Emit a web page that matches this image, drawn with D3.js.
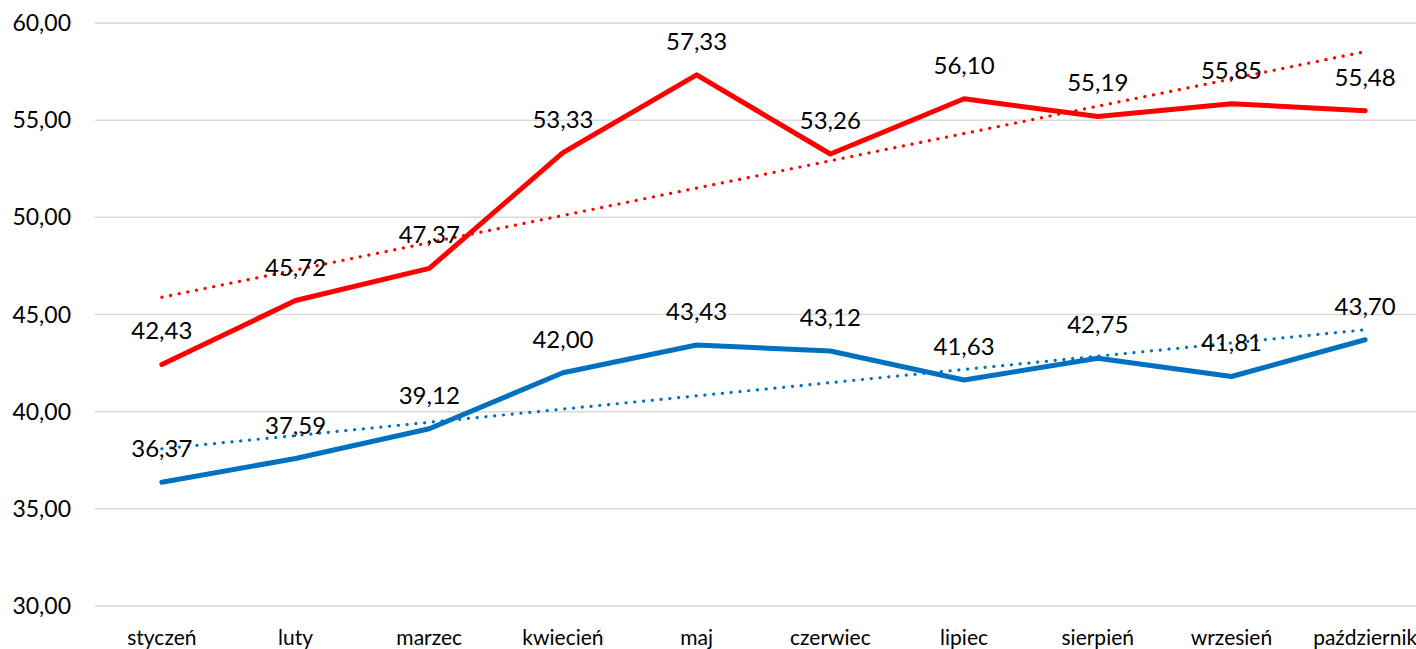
<!DOCTYPE html>
<html>
<head>
<meta charset="utf-8">
<script src="https://cdn.jsdelivr.net/npm/d3@7"></script>
<style>
  html, body { margin: 0; padding: 0; background: #fff; overflow: hidden; }
  svg { display: block; font-family: Lato, "Open Sans", sans-serif; }
  .grid line { stroke: #d9d9d9; stroke-width: 1.5; }
</style>
</head>
<body>
<svg id="chart" width="1416" height="649"></svg>
<script>
  var months = ["styczeń", "luty", "marzec", "kwiecień", "maj", "czerwiec", "lipiec", "sierpień", "wrzesień", "październik"];
  var redValues = [42.43, 45.72, 47.37, 53.33, 57.33, 53.26, 56.10, 55.19, 55.85, 55.48];
  var blueValues = [36.37, 37.59, 39.12, 42.00, 43.43, 43.12, 41.63, 42.75, 41.81, 43.70];
  var yTicks = [30, 35, 40, 45, 50, 55, 60];

  var svg = d3.select("#chart");

  var x = d3.scalePoint()
    .domain(months)
    .range([95, 1432])
    .padding(0.5);

  var y = d3.scaleLinear()
    .domain([30, 60])
    .range([606, 23]);

  var fmt = function (v) { return d3.format(".2f")(v).replace(".", ","); };

  // gridlines
  svg.append("g").attr("class", "grid")
    .selectAll("line").data(yTicks).enter().append("line")
    .attr("x1", 95).attr("x2", 1432)
    .attr("y1", function (d) { return y(d); })
    .attr("y2", function (d) { return y(d); });

  // y axis labels
  svg.append("g").selectAll("text").data(yTicks).enter().append("text")
    .attr("x", 71)
    .attr("y", function (d) { return y(d); })
    .attr("dy", "0.35em")
    .attr("text-anchor", "end")
    .attr("font-size", 23)
    .attr("fill", "#000")
    .text(fmt);

  // x axis labels
  svg.append("g").selectAll("text").data(months).enter().append("text")
    .attr("x", function (d) { return x(d); })
    .attr("y", 645)
    .attr("text-anchor", "middle")
    .attr("font-size", 21)
    .attr("fill", "#000")
    .text(function (d) { return d; });

  // linear trend (least squares), like the spreadsheet trendline
  function trend(values) {
    var n = values.length;
    var mx = (n + 1) / 2, my = d3.mean(values);
    var sxy = 0, sxx = 0;
    values.forEach(function (v, i) {
      sxy += (i + 1 - mx) * (v - my);
      sxx += (i + 1 - mx) * (i + 1 - mx);
    });
    var b = sxy / sxx, a = my - b * mx;
    return [{m: months[0], v: a + b}, {m: months[n - 1], v: a + b * n}];
  }

  var line = d3.line()
    .x(function (d) { return x(d.m); })
    .y(function (d) { return y(d.v); });

  function drawSeries(values, color) {
    var pts = values.map(function (v, i) { return {m: months[i], v: v}; });

    svg.append("path")
      .datum(trend(values))
      .attr("fill", "none")
      .attr("stroke", color)
      .attr("stroke-width", 3.2)
      .attr("stroke-linecap", "round")
      .attr("stroke-dasharray", "0.1 8.7")
      .attr("d", line);

    svg.append("path")
      .datum(pts)
      .attr("fill", "none")
      .attr("stroke", color)
      .attr("stroke-width", 5)
      .attr("stroke-linejoin", "round")
      .attr("stroke-linecap", "round")
      .attr("d", line);

    return pts;
  }

  var redPts = drawSeries(redValues, "#ff0000");
  var bluePts = drawSeries(blueValues, "#0070c0");

  // data labels
  svg.append("g").selectAll("text").data(redPts.concat(bluePts)).enter().append("text")
    .attr("x", function (d) { return x(d.m); })
    .attr("y", function (d) { return y(d.v) - 25; })
    .attr("text-anchor", "middle")
    .attr("font-size", 24)
    .attr("fill", "#000")
    .text(function (d) { return fmt(d.v); });
</script>
</body>
</html>
